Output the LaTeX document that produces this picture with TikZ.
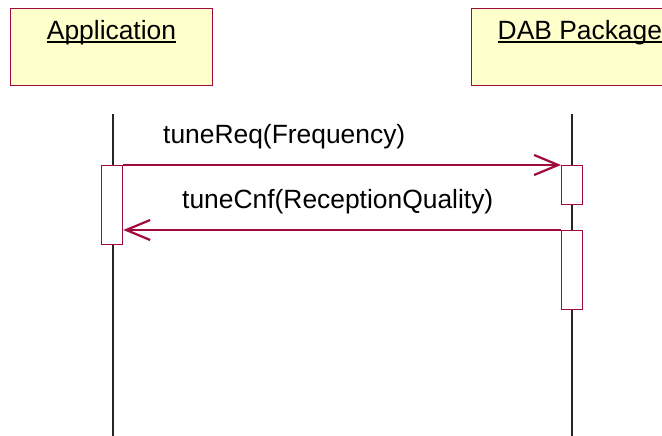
\documentclass[tikz,border=0pt]{standalone}
\usepackage{fontspec}
\setmainfont{Liberation Sans}
\usetikzlibrary{arrows.meta}
\definecolor{umlred}{RGB}{160,10,60}
\definecolor{umlyellow}{RGB}{255,255,204}
\tikzset{
  objbox/.style={draw=umlred, fill=umlyellow, line width=1.2pt, rectangle, inner sep=0pt},
  objtitle/.style={inner sep=0pt, font=\fontsize{26.4}{30}\selectfont},
  msglabel/.style={inner sep=0pt, font=\fontsize{26.4}{30}\selectfont},
  lifeline/.style={draw=black!85, line width=1.3pt},
  actbox/.style={draw=umlred, fill=white, line width=1.3pt, rectangle, inner sep=0pt},
  msg/.style={draw=umlred, line width=1.1pt,
    -{Straight Barb[length=24pt, width=20pt, line width=2.2pt]}},
  titleline/.style={line width=2pt}
}
\begin{document}
\begin{tikzpicture}[x=1pt, y=-1pt]
  \useasboundingbox (0,0) rectangle (662,436);
  \clip (0,0) rectangle (662,436);

  % object boxes
  \node[objbox, minimum width=202pt, minimum height=77pt, anchor=north west] (app) at (10,8) {};
  \node[objbox, minimum width=216pt, minimum height=77pt, anchor=north west] (dab) at (471,8) {};
  \node[objtitle, anchor=base] (appT) at (111.5,39.3) {Application};
  \node[objtitle, anchor=base west] (dabT) at (497.5,39.3) {DAB Package};
  \draw[titleline] ([yshift=-2.4pt]appT.base west) -- ([yshift=-2.4pt]appT.base east);
  \draw[titleline] ([yshift=-2.4pt]dabT.base west) -- ([yshift=-2.4pt]dabT.base east);

  % lifelines
  \coordinate (appTop) at (113,114);
  \coordinate (appBot) at (113,436);
  \coordinate (dabTop) at (572,114);
  \coordinate (dabBot) at (572,436);
  \draw[lifeline] (appTop) -- (appBot);
  \draw[lifeline] (dabTop) -- (dabBot);

  % activations
  \node[actbox, minimum width=21pt, minimum height=79pt, anchor=north west] (appAct) at (101,165) {};
  \node[actbox, minimum width=21pt, minimum height=39pt, anchor=north west] (dabAct1) at (561,165) {};
  \node[actbox, minimum width=21pt, minimum height=79pt, anchor=north west] (dabAct2) at (561,230) {};

  % messages
  \draw[msg] (appAct.north east) -- (dabAct1.north west);
  \draw[msg] (dabAct2.north west) -- (appAct.east |- dabAct2.north west);
  \node[msglabel, anchor=base west] (m1) at (163,143) {tuneReq(Frequency)};
  \node[msglabel, anchor=base west] (m2) at (182,208) {tuneCnf(ReceptionQuality)};
\end{tikzpicture}
\end{document}
